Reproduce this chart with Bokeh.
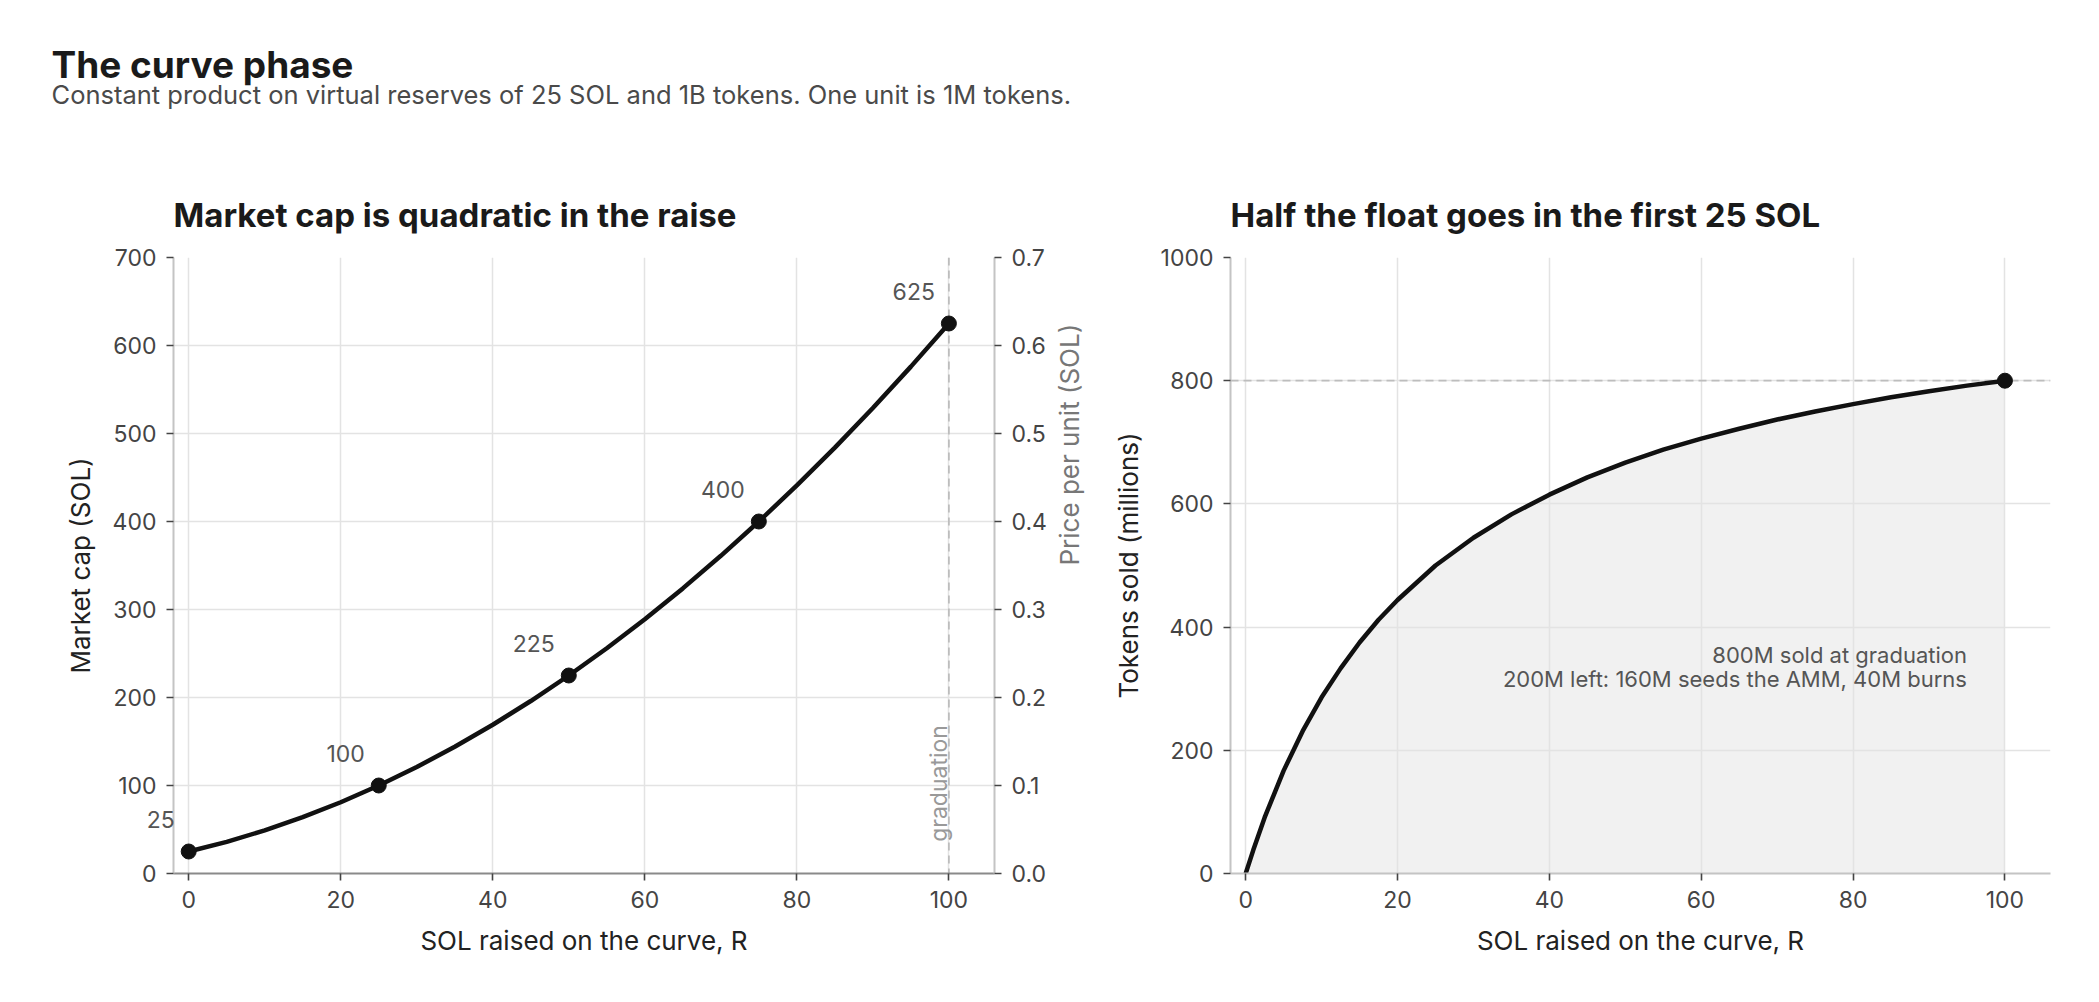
import math
from bokeh.plotting import figure
from bokeh.layouts import column, row
from bokeh.models import (Range1d, LinearAxis, FixedTicker, NumeralTickFormatter,
                          Span, Label)
from bokeh.core.properties import value
from bokeh.embed import file_html
from bokeh.resources import INLINE

FONT = "Inter"

# ---------------- text ----------------
TITLE = "The curve phase"
SUBTITLE = "Constant product on virtual reserves of 25 SOL and 1B tokens. One unit is 1M tokens."
LEFT_TITLE = "Market cap is quadratic in the raise"
RIGHT_TITLE = "Half the float goes in the first 25 SOL"
X_LABEL = "SOL raised on the curve, R"
LEFT_Y_LABEL = "Market cap (SOL)"
PRICE_LABEL = "Price per unit (SOL)"
RIGHT_Y_LABEL = "Tokens sold (millions)"
GRAD_TEXT = "graduation"
NOTE_1 = "800M sold at graduation"
NOTE_2 = "200M left: 160M seeds the AMM, 40M burns"

# ---------------- data ----------------
# left panel: market cap curve
raise_sol = [0, 5, 10, 15, 20, 25, 30, 35, 40, 45, 50, 55, 60, 65, 70, 75, 80, 85, 90, 95, 100]
market_cap = [25, 36, 49, 64, 81, 100, 121, 144, 169, 196, 225, 256, 289, 324, 361, 400,
              441, 484, 529, 576, 625]
marker_raise = [0, 25, 50, 75, 100]
marker_cap = [25, 100, 225, 400, 625]
marker_text = ["25", "100", "225", "400", "625"]

# right panel: tokens sold curve
raise_sol_r = [0, 1, 2.5, 5, 7.5, 10, 12.5, 15, 17.5, 20, 25, 30, 35, 40, 45, 50, 55, 60,
               65, 70, 75, 80, 85, 90, 95, 100]
tokens_sold = [0, 38, 91, 167, 231, 286, 333, 375, 412, 444, 500, 545, 583, 615, 643, 667,
               688, 706, 722, 737, 750, 762, 773, 783, 792, 800]
grad_raise = [100]
grad_tokens = [800]

x_ticks = [0, 20, 40, 60, 80, 100]
cap_ticks = [0, 100, 200, 300, 400, 500, 600, 700]
price_ticks = [0.0, 0.1, 0.2, 0.3, 0.4, 0.5, 0.6, 0.7]
token_ticks = [0, 200, 400, 600, 800, 1000]
GRADUATION_R = 100
GRADUATION_TOKENS = 800

# ---------------- styling helpers ----------------
INK = "#111111"
GRID = "#e3e3e3"


def style_axis(ax, line_color):
    ax.axis_line_color = line_color
    ax.axis_line_width = 2
    ax.major_tick_line_color = "#444444"
    ax.major_tick_line_width = 1.6
    ax.major_tick_out = 7
    ax.major_tick_in = 0
    ax.minor_tick_line_color = None
    ax.major_label_text_font = FONT
    ax.major_label_text_font_size = "23px"
    ax.major_label_text_color = "#444444"
    ax.axis_label_text_font = FONT
    ax.axis_label_text_font_size = "26px"
    ax.axis_label_text_font_style = "normal"
    ax.axis_label_text_color = "#222222"
    ax.major_label_standoff = 10
    ax.axis_label_standoff = 14


def base_fig(title, x_range, y_range, bl, br, width_frame):
    p = figure(frame_width=width_frame, frame_height=616, x_range=x_range, y_range=y_range,
               output_backend="svg", toolbar_location=None,
               min_border_left=bl, min_border_right=br, min_border_top=99, min_border_bottom=110,
               title=title)
    p.outline_line_color = None
    p.background_fill_color = "white"
    p.border_fill_color = "white"
    p.title.text_font = FONT
    p.title.text_font_size = "33px"
    p.title.text_font_style = "bold"
    p.title.text_color = "#1a1a1a"
    p.title.align = "left"
    p.title.standoff = 46
    p.xgrid.grid_line_color = GRID
    p.ygrid.grid_line_color = GRID
    p.xgrid.grid_line_width = 1.5
    p.ygrid.grid_line_width = 1.5
    return p


# ---------------- header ----------------
W = 2091
HH = 158
header = figure(width=W, height=HH, x_range=Range1d(0, W), y_range=Range1d(0, HH),
                output_backend="svg", toolbar_location=None, min_border=0,
                x_axis_location=None, y_axis_location=None)
header.outline_line_color = None
header.grid.visible = False
header.add_layout(Label(x=51, y=94, x_units="screen", y_units="screen", text=TITLE,
                        text_font=FONT, text_font_size="37px", text_font_style="bold",
                        text_color="#1a1a1a", text_baseline="alphabetic"))
header.add_layout(Label(x=51, y=64, x_units="screen", y_units="screen", text=SUBTITLE,
                        text_font=FONT, text_font_size="25.5px",
                        text_color="#4a4a4a", text_baseline="alphabetic"))

# ---------------- left panel ----------------
p1 = base_fig(LEFT_TITLE, Range1d(-2, 106), Range1d(0, 700), 173, 114, 821)
p1.extra_y_ranges = {"price": Range1d(0, 0.7)}
p1.xaxis.ticker = FixedTicker(ticks=x_ticks)
p1.xgrid.ticker = FixedTicker(ticks=x_ticks)
p1.yaxis.ticker = FixedTicker(ticks=cap_ticks)
p1.ygrid.ticker = FixedTicker(ticks=cap_ticks)
p1.xaxis.axis_label = X_LABEL
p1.yaxis.axis_label = LEFT_Y_LABEL
style_axis(p1.xaxis[0], "#8a8a8a")
style_axis(p1.yaxis[0], "#c4c4c4")

price_axis = LinearAxis(y_range_name="price", axis_label=PRICE_LABEL,
                        ticker=FixedTicker(ticks=price_ticks),
                        formatter=NumeralTickFormatter(format="0.0"))
style_axis(price_axis, "#c4c4c4")
price_axis.axis_label_text_color = "#777777"
price_axis.axis_label_orientation = math.pi / 2
price_axis.axis_label_text_align = "center"
price_axis.axis_label_standoff = 20
p1.add_layout(price_axis, "right")

p1.add_layout(Span(location=GRADUATION_R, dimension="height", line_color="#bdbdbd",
                   line_dash="8 5", line_width=1.8, level="underlay"))

p1.line(raise_sol, market_cap, line_color=INK, line_width=4.5)
p1.scatter(marker_raise, marker_cap, size=15, fill_color=INK, line_color=INK)
for xv, yv, tv in zip(marker_raise, marker_cap, marker_text):
    lab = Label(x=xv, y=yv, text=tv, text_align="right", text_baseline="alphabetic",
                x_offset=-14, y_offset=32, text_font=FONT, text_font_size="23px",
                text_color="#555555")
    # a label that sticks out past the frame's left edge goes in the left side panel,
    # so that it is not clipped by the frame
    p1.add_layout(lab, "left" if xv <= 0 else "center")
p1.text(x=[GRADUATION_R], y=[36], text=[GRAD_TEXT], angle=math.pi / 2, text_align="left",
        text_baseline="bottom", x_offset=4, text_font=value(FONT),
        text_font_size="23px", text_color="#999999")

# ---------------- right panel ----------------
p2 = base_fig(RIGHT_TITLE, Range1d(-2, 106), Range1d(0, 1000), 122, 41, 820)
p2.xaxis.ticker = FixedTicker(ticks=x_ticks)
p2.xgrid.ticker = FixedTicker(ticks=x_ticks)
p2.yaxis.ticker = FixedTicker(ticks=token_ticks)
p2.ygrid.ticker = FixedTicker(ticks=token_ticks)
p2.xaxis.axis_label = X_LABEL
p2.yaxis.axis_label = RIGHT_Y_LABEL
style_axis(p2.xaxis[0], "#c4c4c4")
style_axis(p2.yaxis[0], "#c4c4c4")

p2.varea(x=raise_sol_r, y1=0, y2=tokens_sold, fill_color="#f1f1f1", level="image")
p2.add_layout(Span(location=GRADUATION_TOKENS, dimension="width", line_color="#bdbdbd",
                   line_dash="8 5", line_width=1.8, level="underlay"))
p2.line(raise_sol_r, tokens_sold, line_color=INK, line_width=4.5)
p2.scatter(grad_raise, grad_tokens, size=15, fill_color=INK, line_color=INK)
p2.text(x=[95, 95], y=[355, 315], text=[NOTE_1, NOTE_2], text_align="right",
        text_baseline="alphabetic", text_font=value(FONT), text_font_size="22px",
        text_color="#555555")

layout = column(header, row(p1, p2))
open("out.html", "w").write(file_html(layout, INLINE))
